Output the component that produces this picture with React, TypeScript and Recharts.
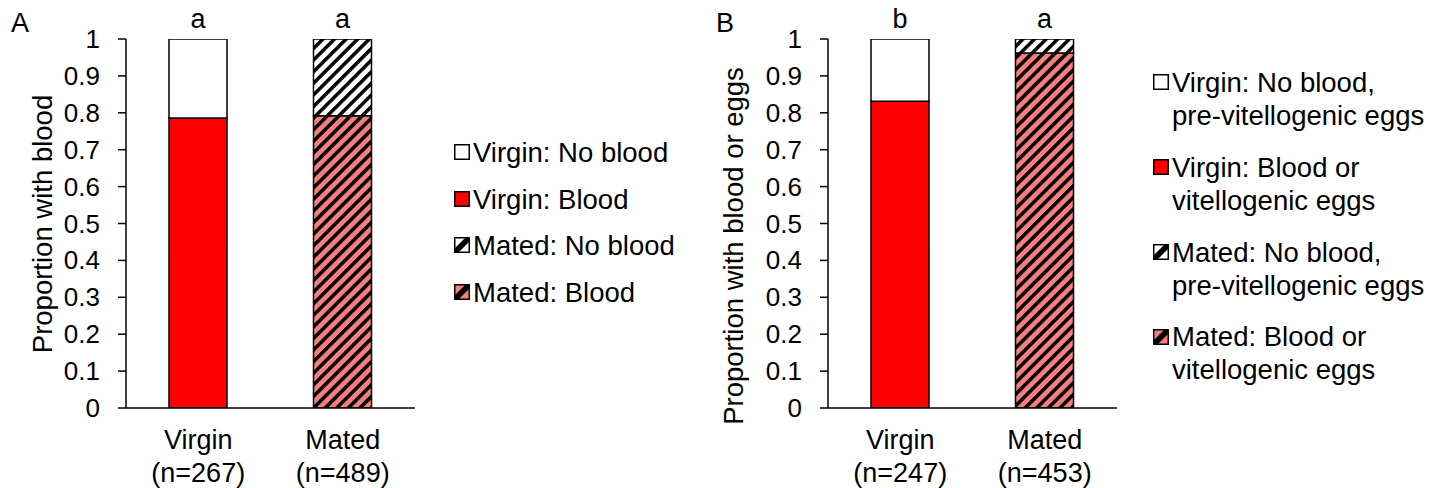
import React from 'react';
import { BarChart, Bar, XAxis, YAxis, Cell, LabelList, Label } from 'recharts';

// ---------------------------------------------------------------
// DATA
// ---------------------------------------------------------------

const groups = ['Virgin', 'Mated'];
const yTicks = [0, 0.1, 0.2, 0.3, 0.4, 0.5, 0.6, 0.7, 0.8, 0.9, 1];

// panel A: blood feeding
const nA = [267, 489];
const bloodA = [0.786, 0.792];
const noBloodA = [0.214, 0.208];
const lettersA = ['a', 'a'];
const legendA = ['Virgin: No blood', 'Virgin: Blood', 'Mated: No blood', 'Mated: Blood'];

// panel B: blood or vitellogenic eggs
const nB = [247, 453];
const bloodB = [0.831, 0.962];
const noBloodB = [0.169, 0.038];
const lettersB = ['b', 'a'];
const legendB = [
  ['Virgin: No blood,', 'pre-vitellogenic eggs'],
  ['Virgin: Blood or', 'vitellogenic eggs'],
  ['Mated: No blood,', 'pre-vitellogenic eggs'],
  ['Mated: Blood or', 'vitellogenic eggs'],
];

// ---------------------------------------------------------------
// STYLES
// ---------------------------------------------------------------

const FONT = '"Liberation Sans", Arial, sans-serif';
const RED = '#FF0000';
const PINK = '#F77E7E';
const bloodFills = [RED, 'url(#hatchPink)'];
const noBloodFills = ['#FFFFFF', 'url(#hatchWhite)'];
const markerFills = ['#FFFFFF', RED, '#FFFFFF', PINK];

function buildData(n: number[], blood: number[], noBlood: number[], letters: string[]) {
  return groups.map((group, i) => ({
    group,
    n: n[i],
    blood: blood[i],
    noBlood: noBlood[i],
    letter: letters[i],
  }));
}

const dataA = buildData(nA, bloodA, noBloodA, lettersA);
const dataB = buildData(nB, bloodB, noBloodB, lettersB);

function Patterns() {
  return (
    <svg width={0} height={0} style={{ position: 'absolute' }}>
      <defs>
        <pattern id="hatchPink" patternUnits="userSpaceOnUse" width={8.2} height={8.2} patternTransform="rotate(45)">
          <rect width={8.2} height={8.2} fill={PINK} />
          <rect x={0} y={0} width={3.5} height={8.2} fill="#000" />
        </pattern>
        <pattern id="hatchWhite" patternUnits="userSpaceOnUse" width={8.2} height={8.2} patternTransform="rotate(45)">
          <rect width={8.2} height={8.2} fill="#FFFFFF" />
          <rect x={0} y={0} width={3.5} height={8.2} fill="#000" />
        </pattern>
      </defs>
    </svg>
  );
}

function Marker({ index }: { index: number }) {
  const hatched = index >= 2;
  return (
    <svg width={16} height={16} style={{ display: 'block' }}>
      <rect x={0.75} y={0.75} width={14.5} height={14.5} fill={markerFills[index]} stroke="#000" strokeWidth={1.5} />
      {hatched && <polygon points="1,11 11,1 15,1 15,5 5,15 1,15" fill="#000" />}
    </svg>
  );
}

// ---------------------------------------------------------------
// PANEL
// ---------------------------------------------------------------

interface PanelProps {
  left: number;
  width: number;
  axisWidth: number;
  marginRight: number;
  data: ReturnType<typeof buildData>;
  title: string;
  titleX: number;
  titleY: number;
}

function Panel({ left, width, axisWidth, marginRight, data, title, titleX, titleY }: PanelProps) {
  const xTick = (props: any) => {
    const { x, y, index } = props;
    return (
      <text textAnchor="middle" dominantBaseline="central" fontSize={27} fontFamily={FONT} fill="#000">
        <tspan x={x} y={y + 32}>{data[index].group}</tspan>
        <tspan x={x} y={y + 65}>{`(n=${data[index].n})`}</tspan>
      </text>
    );
  };

  const yTick = (props: any) => {
    const { x, y, payload } = props;
    return (
      <text x={x} y={y} textAnchor="end" dominantBaseline="central" fontSize={26} fontFamily={FONT} fill="#000">
        {String(payload.value)}
      </text>
    );
  };

  const letter = (props: any) => {
    const { x, y, width: w, value } = props;
    return (
      <text x={x + w / 2} y={y - 11.5} textAnchor="middle" fontSize={27} fontFamily={FONT} fill="#000">
        {value}
      </text>
    );
  };

  return (
    <div style={{ position: 'absolute', left, top: 0 }}>
      <BarChart
        width={width}
        height={488}
        data={data}
        barSize={58}
        margin={{ top: 39, right: marginRight, bottom: 0, left: 0 }}
      >
        <XAxis
          dataKey="group"
          height={80}
          interval={0}
          tickLine={false}
          tickSize={0}
          tickMargin={0}
          axisLine={{ stroke: '#000', strokeWidth: 1.5 }}
          tick={xTick}
        />
        <YAxis
          width={axisWidth}
          domain={[0, 1]}
          ticks={yTicks}
          allowDataOverflow
          tickSize={8}
          tickMargin={18}
          axisLine={{ stroke: '#000', strokeWidth: 1.5 }}
          tickLine={{ stroke: '#000', strokeWidth: 1.5 }}
          tick={yTick}
        >
          <Label
            content={() => (
              <text
                x={titleX}
                y={titleY}
                transform={`rotate(-90, ${titleX}, ${titleY})`}
                textAnchor="middle"
                dominantBaseline="central"
                fontSize={27.5}
                fontFamily={FONT}
                fill="#000"
              >
                {title}
              </text>
            )}
          />
        </YAxis>
        <Bar dataKey="blood" stackId="s" stroke="#000" strokeWidth={1.5} isAnimationActive={false}>
          {data.map((d, i) => (
            <Cell key={d.group} fill={bloodFills[i]} />
          ))}
        </Bar>
        <Bar dataKey="noBlood" stackId="s" stroke="#000" strokeWidth={1.5} isAnimationActive={false}>
          {data.map((d, i) => (
            <Cell key={d.group} fill={noBloodFills[i]} />
          ))}
          <LabelList dataKey="letter" content={letter} />
        </Bar>
      </BarChart>
    </div>
  );
}

// ---------------------------------------------------------------
// APP
// ---------------------------------------------------------------

export default function App() {
  const legendRowsA = [152, 199, 245, 292];
  const legendRowsB = [82, 167, 252, 336.5];
  return (
    <div
      style={{
        position: 'absolute',
        left: 0,
        top: 0,
        width: 1447,
        height: 488,
        background: '#fff',
        fontFamily: FONT,
        color: '#000',
      }}
    >
      <Patterns />
      <Panel
        left={0}
        width={700}
        axisWidth={126}
        marginRight={285}
        data={dataA}
        title="Proportion with blood"
        titleX={42}
        titleY={224}
      />
      <Panel
        left={700}
        width={747}
        axisWidth={128}
        marginRight={330}
        data={dataB}
        title="Proportion with blood or eggs"
        titleX={33}
        titleY={246}
      />

      <div style={{ position: 'absolute', left: 11, top: 7, fontSize: 27, lineHeight: '33px' }}>A</div>
      <div style={{ position: 'absolute', left: 716, top: 7, fontSize: 27, lineHeight: '33px' }}>B</div>

      {legendA.map((label, i) => (
        <div
          key={label}
          style={{
            position: 'absolute',
            left: 454,
            top: legendRowsA[i] - 16.5,
            display: 'flex',
            alignItems: 'flex-start',
            fontSize: 27.5,
            lineHeight: '33px',
            whiteSpace: 'nowrap',
          }}
        >
          <div style={{ marginTop: 8.5, marginRight: 3 }}>
            <Marker index={i} />
          </div>
          <div>{label}</div>
        </div>
      ))}

      {legendB.map((lines, i) => (
        <div
          key={lines[0] + i}
          style={{
            position: 'absolute',
            left: 1153,
            top: legendRowsB[i] - 16.5,
            display: 'flex',
            alignItems: 'flex-start',
            fontSize: 27.5,
            lineHeight: '33px',
            whiteSpace: 'nowrap',
          }}
        >
          <div style={{ marginTop: 8.5, marginRight: 3 }}>
            <Marker index={i} />
          </div>
          <div>
            {lines.map((line) => (
              <div key={line}>{line}</div>
            ))}
          </div>
        </div>
      ))}
    </div>
  );
}
